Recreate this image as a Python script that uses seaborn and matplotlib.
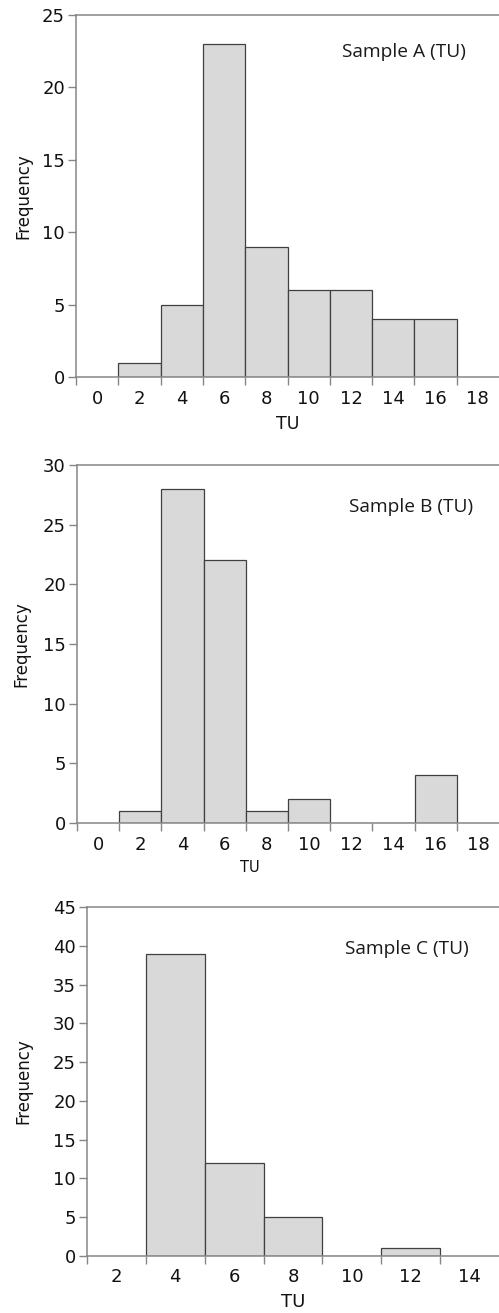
import numpy as np
import pandas as pd
import matplotlib
matplotlib.use("Agg")
import matplotlib.pyplot as plt
import seaborn as sns

# Data
centers_A = [2, 4, 6, 8, 10, 12, 14, 16]
counts_A = [1, 5, 23, 9, 6, 6, 4, 4]
centers_B = [2, 4, 6, 8, 10, 12, 14, 16]
counts_B = [1, 28, 22, 1, 2, 0, 0, 4]
centers_C = [4, 6, 8, 10, 12]
counts_C = [39, 12, 5, 0, 1]
labels = ["Sample A (TU)", "Sample B (TU)", "Sample C (TU)"]
xlabels_A = [0, 2, 4, 6, 8, 10, 12, 14, 16, 18]
xlabels_C = [2, 4, 6, 8, 10, 12, 14]

sns.set_theme(style="white")
plt.rcParams['font.family'] = ['DejaVu Sans']
plt.rcParams['text.color'] = '#111111'
plt.rcParams['axes.labelcolor'] = '#111111'
plt.rcParams['xtick.labelcolor'] = '#111111'
plt.rcParams['ytick.labelcolor'] = '#111111'

fig = plt.figure(figsize=(4.99, 13.13), dpi=100)
W, H = 499, 1313

def axes_px(left, top, bottom):
    return fig.add_axes([left / W, 1 - bottom / H, (W - left) / W, (bottom - top) / H])

specs = [
    dict(px=(76, 15, 377), c=centers_A, n=counts_A, xlim=(-1, 19), ylim=25, lab=xlabels_A,
         txt=(0.629, 0.898), ylab_x=-0.104),
    dict(px=(77, 465, 823), c=centers_B, n=counts_B, xlim=(-1, 19), ylim=30, lab=xlabels_A,
         txt=(0.645, 0.883), ylab_x=-0.111),
    dict(px=(87, 907, 1256), c=centers_C, n=counts_C, xlim=(1, 15), ylim=45, lab=xlabels_C,
         txt=(0.626, 0.880), ylab_x=-0.133),
]
xlab_pos = [(288, 424, 12.5), (250, 868, 10.5), (293, 1302, 13)]

spine_col = "#868686"
for i, s in enumerate(specs):
    ax = axes_px(*s["px"])
    obs = np.repeat(np.array(s["c"], dtype=float), s["n"])
    df = pd.DataFrame({"TU": obs})
    lo = s["c"][0] - 1
    hi = s["c"][-1] + 1
    sns.histplot(data=df, x="TU", binwidth=2, binrange=(lo, hi), ax=ax, color="#d9d9d9",
                 edgecolor="#404040", linewidth=0.9, alpha=1.0)
    ax.set_xlim(*s["xlim"])
    ax.set_ylim(0, s["ylim"])
    odd = np.arange(s["xlim"][0], s["xlim"][1], 2)
    ax.set_xticks(odd)
    ax.set_xticklabels([""] * len(odd))
    ax.set_xticks(s["lab"], minor=True)
    ax.set_xticklabels([str(v) for v in s["lab"]], minor=True)
    ax.tick_params(axis="x", which="major", direction="out", length=6, width=1, color=spine_col, bottom=True)
    ax.tick_params(axis="x", which="minor", length=0, labelsize=13, pad=9, bottom=True)
    ax.set_yticks(np.arange(0, s["ylim"] + 1, 5))
    ax.tick_params(axis="y", direction="out", length=6, width=1, color=spine_col, labelsize=13, pad=2, left=True)
    for sp in ["left", "bottom", "top"]:
        ax.spines[sp].set_color(spine_col)
        ax.spines[sp].set_linewidth(1.1)
    ax.spines["right"].set_visible(False)
    ax.set_ylabel("Frequency", fontsize=12)
    ax.yaxis.set_label_coords(s["ylab_x"], 0.5)
    ax.set_xlabel("")
    xp, yp, fs = xlab_pos[i]
    fig.text(xp / W, 1 - yp / H, "TU", ha="center", va="center", fontsize=fs)
    ax.text(s["txt"][0], s["txt"][1], labels[i], transform=ax.transAxes,
            fontsize=13.8, family=["Open Sans", "DejaVu Sans"], ha="left", va="center", color="#1a1a1a")
    ax.grid(False)

fig.savefig("out.png", dpi=100)
